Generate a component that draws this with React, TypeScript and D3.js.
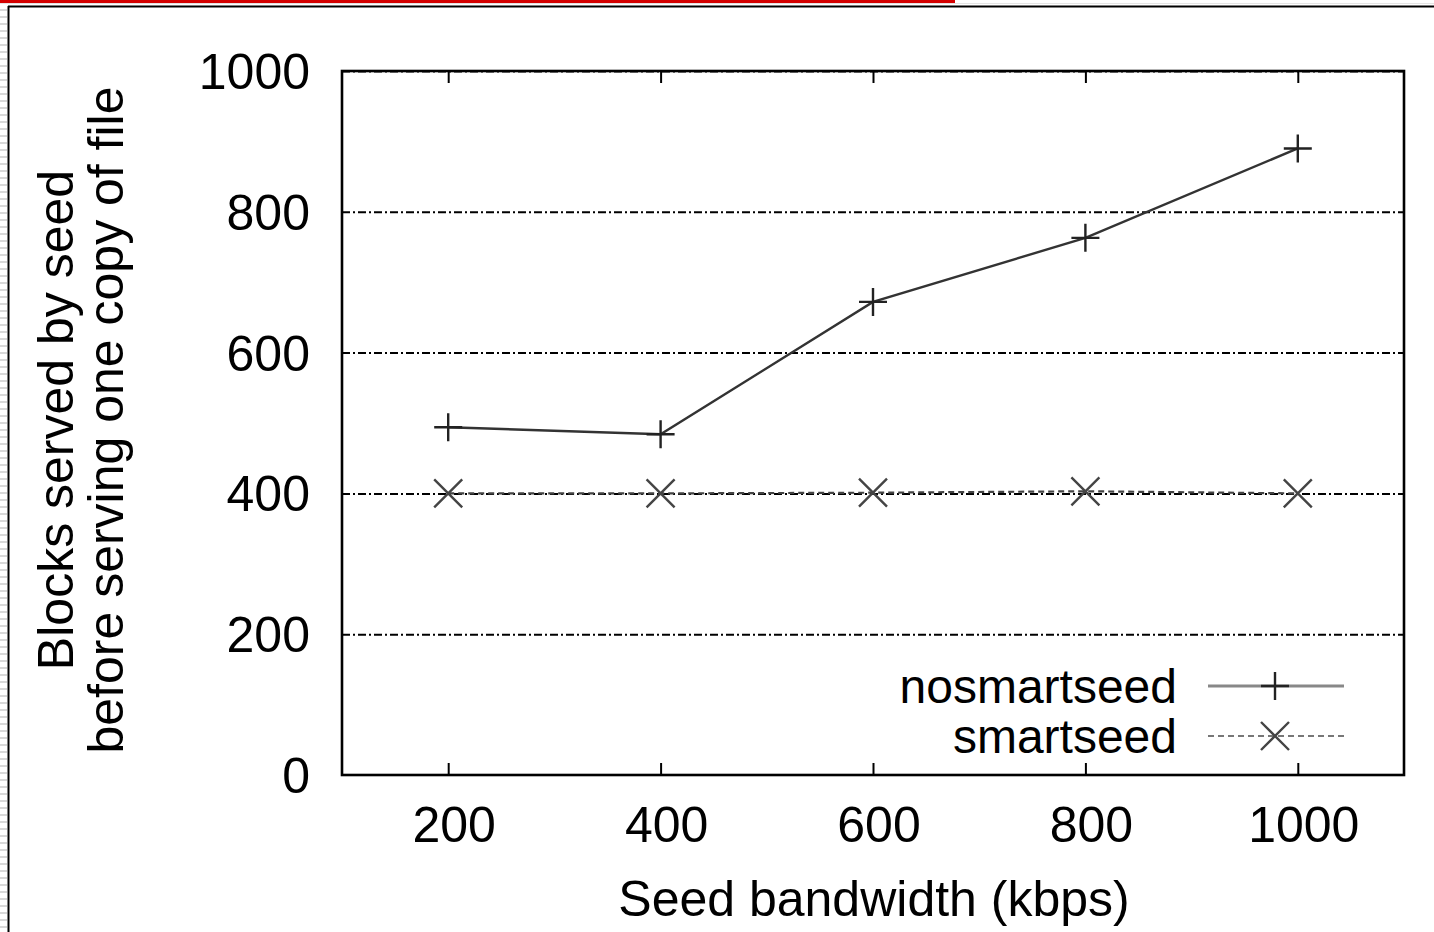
import React, { useRef, useEffect } from 'react';
import * as d3 from 'd3';

const bandwidths = [200, 400, 600, 800, 1000];
const noSmartSeed = [494, 484, 672, 763, 890];
const smartSeed = [400, 400, 401, 403, 400];
const xTicks = [200, 400, 600, 800, 1000];
const yTicks = [0, 200, 400, 600, 800, 1000];
const seriesNames = ["nosmartseed", "smartseed"];

export default function App() {
    const svgRef = useRef<SVGSVGElement>(null);

    useEffect(() => {
        if (!svgRef.current) return;
        const width = 1434;
        const height = 932;
        const svg = d3.select(svgRef.current);
        svg.selectAll("*").remove();
        svg.attr("width", width).attr("height", height);

        const font = "'Liberation Sans', Arial, sans-serif";
        const margin = { top: 71, right: 30, bottom: 157, left: 342 };

        // page decoration: red bar, frame, striped left edge
        svg.append("rect").attr("width", width).attr("height", height).attr("fill", "#fff");
        for (let yy = 10; yy < height; yy += 7) {
            svg.append("line").attr("x1", 0).attr("x2", 7).attr("y1", yy).attr("y2", yy)
                .attr("stroke", "#d8d8d8").attr("stroke-width", 2);
        }
        svg.append("line").attr("x1", 0).attr("x2", width).attr("y1", 3.5).attr("y2", 3.5)
            .attr("stroke", "#e4e4e4").attr("stroke-width", 1);
        svg.append("rect").attr("x", 0).attr("y", 0).attr("width", 955).attr("height", 3).attr("fill", "#d40000");
        svg.append("line").attr("x1", 8).attr("x2", width).attr("y1", 6.5).attr("y2", 6.5)
            .attr("stroke", "#000").attr("stroke-width", 2);
        svg.append("line").attr("x1", 8.5).attr("x2", 8.5).attr("y1", 6).attr("y2", height)
            .attr("stroke", "#000").attr("stroke-width", 2);

        const x = d3.scaleLinear().domain([100, 1100]).range([margin.left, width - margin.right]);
        const y = d3.scaleLinear().domain([0, 1000]).range([height - margin.bottom, margin.top]);
        const x0 = x.range()[0], x1 = x.range()[1];
        const y0 = y.range()[0], y1 = y.range()[1];

        const g = svg.append("g");

        // gridlines (dash-dot)
        g.append("g")
            .attr("transform", `translate(${x0},0)`)
            .call(d3.axisLeft(y).tickValues(yTicks.filter(t => t > 0)).tickSize(-(x1 - x0)).tickFormat(() => ""))
            .call(s => s.select(".domain").remove())
            .selectAll("line")
            .attr("stroke", "#000")
            .attr("stroke-width", 2)
            .attr("stroke-dasharray", "8 3 2 3");

        // x ticks (inside, top and bottom)
        g.append("g")
            .attr("transform", `translate(0,${y0})`)
            .call(d3.axisTop(x).tickValues(xTicks).tickSize(12).tickFormat(() => ""))
            .call(s => s.select(".domain").remove())
            .selectAll("line").attr("stroke", "#000").attr("stroke-width", 2);
        g.append("g")
            .attr("transform", `translate(0,${y1})`)
            .call(d3.axisBottom(x).tickValues(xTicks).tickSize(12).tickFormat(() => ""))
            .call(s => s.select(".domain").remove())
            .selectAll("line").attr("stroke", "#000").attr("stroke-width", 2);

        // frame
        g.append("rect")
            .attr("x", x0).attr("y", y1).attr("width", x1 - x0).attr("height", y0 - y1)
            .attr("fill", "none").attr("stroke", "#000").attr("stroke-width", 2.6);

        // tick labels
        g.selectAll(".ylab").data(yTicks).enter().append("text")
            .attr("x", 310).attr("y", d => y(d)).attr("dy", "0.36em")
            .attr("text-anchor", "end")
            .style("font-family", font).style("font-size", "50px").style("fill", "#000")
            .text(d => d);
        g.selectAll(".xlab").data(xTicks).enter().append("text")
            .attr("x", d => x(d) + 6).attr("y", 842)
            .attr("text-anchor", "middle")
            .style("font-family", font).style("font-size", "50px").style("fill", "#000")
            .text(d => d);

        // axis titles
        g.append("text")
            .attr("x", (x0 + x1) / 2 + 1).attr("y", 916)
            .attr("text-anchor", "middle")
            .style("font-family", font).style("font-size", "50px").style("fill", "#000")
            .text("Seed bandwidth (kbps)");
        const yTitle = g.append("text")
            .attr("transform", "translate(0,420) rotate(-90)")
            .attr("text-anchor", "middle")
            .style("font-family", font).style("font-size", "50px").style("fill", "#000");
        yTitle.append("tspan").attr("x", 0).attr("y", 73).text("Blocks served by seed");
        yTitle.append("tspan").attr("x", 0).attr("y", 123).text("before serving one copy of file");

        const line = d3.line<number>()
            .x((d, i) => x(bandwidths[i]))
            .y(d => y(d));

        const cross = (px: number, py: number, r: number, sel: d3.Selection<SVGGElement, unknown, null, undefined>) => {
            sel.append("path")
                .attr("d", `M${px - r},${py - r}L${px + r},${py + r}M${px - r},${py + r}L${px + r},${py - r}`)
                .attr("stroke", "#444").attr("stroke-width", 2.4).attr("fill", "none");
        };
        const plus = (px: number, py: number, r: number, sel: d3.Selection<SVGGElement, unknown, null, undefined>) => {
            sel.append("path")
                .attr("d", `M${px - r},${py}L${px + r},${py}M${px},${py - r}L${px},${py + r}`)
                .attr("stroke", "#222").attr("stroke-width", 2.4).attr("fill", "none");
        };

        // smartseed (dashed with X markers)
        g.append("path").datum(smartSeed)
            .attr("d", line).attr("fill", "none")
            .attr("stroke", "#444").attr("stroke-width", 2.2).attr("stroke-dasharray", "6 4");
        smartSeed.forEach((v, i) => cross(x(bandwidths[i]), y(v), 14, g));

        // nosmartseed (solid with + markers)
        g.append("path").datum(noSmartSeed)
            .attr("d", line).attr("fill", "none")
            .attr("stroke", "#333").attr("stroke-width", 2.4);
        noSmartSeed.forEach((v, i) => plus(x(bandwidths[i]), y(v), 14, g));

        // legend
        const legendY = [686, 736];
        seriesNames.forEach((name, i) => {
            g.append("text")
                .attr("x", 1177).attr("y", legendY[i]).attr("dy", "0.36em")
                .attr("text-anchor", "end")
                .style("font-family", font).style("font-size", "48px").style("fill", "#000")
                .text(name);
            g.append("line")
                .attr("x1", 1208).attr("x2", 1344).attr("y1", legendY[i]).attr("y2", legendY[i])
                .attr("stroke", i === 0 ? "#888" : "#777")
                .attr("stroke-width", i === 0 ? 3 : 2)
                .attr("stroke-dasharray", i === 0 ? null : "6 4");
            if (i === 0) plus(1275, legendY[i], 14, g);
            else cross(1275, legendY[i], 14, g);
        });
    }, []);

    return (
        <div style={{ position: "absolute", left: 0, top: 0 }}>
            <svg ref={svgRef} style={{ display: "block" }} />
        </div>
    );
}
